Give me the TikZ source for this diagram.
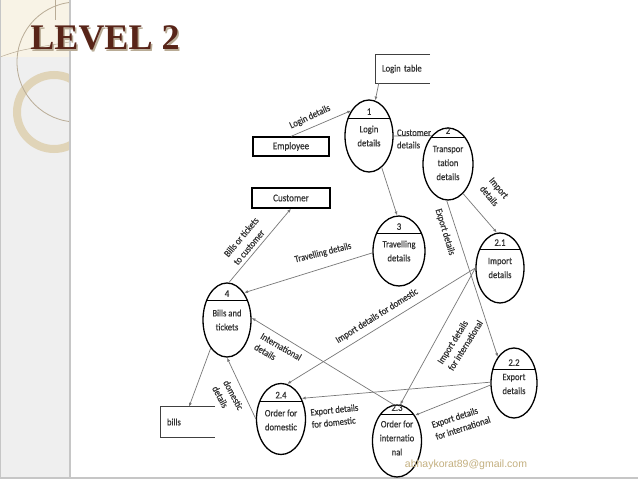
\documentclass[tikz,border=0pt]{standalone}
\usepackage{fontspec}
\setmainfont{Carlito}[FakeBold=0.5,FakeStretch=0.88]
\newfontfamily\titlefont{Liberation Serif}
\newfontfamily\mailfont{Liberation Sans}
\usetikzlibrary{shapes.geometric,arrows.meta}
\definecolor{flow_gray}{RGB}{120,120,120}
\definecolor{title_brown}{RGB}{88,36,24}
\definecolor{title_shadow}{RGB}{185,172,150}
\definecolor{mail_tan}{RGB}{196,176,128}
\definecolor{strip_gray}{RGB}{239,239,239}
\definecolor{strip_edge}{RGB}{198,198,198}
\definecolor{ring_beige}{RGB}{224,212,184}
\definecolor{cream}{RGB}{248,243,230}

\tikzset{
	proc/.style={ellipse,draw=black,line width=1.3pt,inner sep=0pt,
		path picture={\draw[black,line width=0.8pt] ([yshift=-#1]path picture bounding box.north west) -- ([yshift=-#1]path picture bounding box.north east);}},
	num/.style={anchor=base,inner sep=0pt,text=black!80,font=\fontsize{10}{11}\selectfont},
	ptext/.style={align=center,inner sep=0pt,text=black!80,font=\fontsize{9.8}{14}\selectfont},
	entity/.style={draw=black,line width=1.3pt,inner sep=0pt,text=black!80,font=\fontsize{10.3}{11}\selectfont},
	store/.style={inner xsep=6pt,inner ysep=0pt,align=left,text=black!80,font=\fontsize{9.8}{11}\selectfont},
	store_line/.style={draw=black!75,line width=0.9pt},
	flow/.style={draw=flow_gray,line width=0.7pt,-{Latex[length=4pt,width=3pt]}},
	plain_flow/.style={draw=flow_gray,line width=0.7pt},
	lbl/.style={align=left,inner sep=0pt,text=black!80,font=\fontsize{9.8}{12.5}\selectfont}
}

\begin{document}
\begin{tikzpicture}[x=1pt,y=-1pt]
	\useasboundingbox (0,0) rectangle (638,479);
	\fill[white] (0,0) rectangle (638,479);

	% left strip
	\fill[strip_gray] (0,0) rectangle (70,479);
	\fill[cream] (0,0) rectangle (70,57);
	\begin{scope}
		\clip (0,0) rectangle (70,479);
		\draw[ring_beige,line width=8pt] (54,112) circle (37);
		\draw[title_shadow,line width=0.8pt] (77,62) circle (60);
		\draw[title_shadow,line width=0.5pt] (0,57) .. controls (20,50) .. (70,42);
		\draw[title_shadow,line width=0.5pt] (55,0) -- (55,20);
	\end{scope}
	\draw[strip_edge,line width=1.5pt] (70,0) -- (70,479);
	\draw[strip_edge,line width=1pt] (0.5,0) -- (0.5,479);
	\draw[strip_edge,line width=1.5pt] (0,478) -- (638,478);

	% title
	\node[text=title_shadow,font=\titlefont\bfseries\fontsize{36}{40}\selectfont] (ttls) at (106.5,39.5) {LEVEL 2};
	\node[text=title_brown,font=\titlefont\bfseries\fontsize{36}{40}\selectfont] (ttl) at (105,38) {LEVEL 2};

	% processes
	\node[proc=18pt,minimum width=48pt,minimum height=72pt] (p1) at (369,136) {};
	\node[proc=9pt,minimum width=50pt,minimum height=72pt] (p2) at (448,164) {};
	\node[proc=17pt,minimum width=52pt,minimum height=70pt] (p3) at (399,251) {};
	\node[proc=16pt,minimum width=48pt,minimum height=70pt] (p21) at (500,268) {};
	\node[proc=21pt,minimum width=46pt,minimum height=70pt] (p22) at (514,383) {};
	\node[proc=9pt,minimum width=49pt,minimum height=72pt] (p23) at (397,441) {};
	\node[proc=18pt,minimum width=49pt,minimum height=71pt] (p24) at (281,419) {};
	\node[proc=17pt,minimum width=48pt,minimum height=74pt] (p4) at (227,320) {};

	\node[num] (n1) at ([yshift=-15.5pt]p1.north) {1};
	\node[num] (n2) at ([yshift=-6.5pt]p2.north) {2};
	\node[num] (n3) at ([yshift=-14.5pt]p3.north) {3};
	\node[num] (n21) at ([yshift=-13.5pt]p21.north) {2.1};
	\node[num] (n22) at ([yshift=-18.5pt]p22.north) {2.2};
	\node[num] (n23) at ([yshift=-6.5pt]p23.north) {2.3};
	\node[num] (n24) at ([yshift=-15.5pt]p24.north) {2.4};
	\node[num] (n4) at ([yshift=-14.5pt]p4.north) {4};

	\node[ptext] (t1) at (p1) {Login\\details};
	\node[ptext] (t2) at ([yshift=1pt]p2) {Transpor\\tation\\details};
	\node[ptext] (t3) at (p3) {Travelling\\details};
	\node[ptext] (t21) at (p21) {Import\\details};
	\node[ptext] (t22) at ([yshift=-1pt]p22) {Export\\details};
	\node[ptext] (t23) at ([yshift=3pt]p23) {Order for\\internatio\\nal};
	\node[ptext] (t24) at ([yshift=-1pt]p24) {Order for\\domestic};
	\node[ptext] (t4) at (p4) {Bills and\\tickets};

	% entities and stores
	\node[entity,minimum width=76pt,minimum height=19pt] (emp) at (291,146.5) {Employee};
	\node[entity,minimum width=78pt,minimum height=20pt] (cust) at (291,198) {Customer};
	\node[store,text width=42pt,minimum height=28pt] (lt) at (403,69) {Login table};
	\node[store,text width=42pt,minimum height=30pt] (bills) at (188,422) {bills};
	\draw[store_line] (lt.north east) -- (lt.north west) -- (lt.south west) -- (lt.south east);
	\draw[store_line] (bills.north east) -- (bills.north west) -- (bills.south west) -- (bills.south east);

	% flows
	\draw[flow] ([xshift=3pt]lt.south west) -- (p1.80);
	\draw[flow] (emp.north) -- (p1.125);
	\draw[plain_flow] (p1.east) -- (p2.120);
	\draw[flow] (p1.292) -- (p3.93);
	\draw[flow] (p2.297) -- (p21.95);
	\draw[flow] (p2.268) -- (p22.122);
	\draw[flow] (p3.184) -- (p4.58);
	\draw[flow] (p4.87) -- (cust.south);
	\draw[flow] (p4.240) -- ([xshift=1pt]bills.north);
	\draw[flow] (p24.west) -- (p4.270);
	\draw[flow] (p23.95) -- (p4.5);
	\draw[flow] (p21.west) -- (p24.80);
	\draw[flow] (p21.west) -- (p23.85);
	\draw[flow] (p22.178) -- (p24.45);
	\draw[flow] (p22.185) -- (p23.55);

	% flow labels
	\node[lbl,rotate=25] (l_login) at (310,117) {Login details};
	\node[lbl] (l_cust) at (414,139) {Customer\\details};
	\node[lbl,align=center,rotate=-50] (l_imp) at (494,192) {Import\\details};
	\node[lbl,rotate=-73] (l_exp) at (445,232) {Export details};
	\node[lbl,rotate=14] (l_trav) at (323,253) {Travelling details};
	\node[lbl,rotate=50] (l_bills) at (246,241) {Bills or tickets\\to customer};
	\node[lbl,rotate=-62] (l_dom) at (228,398) {domestic\\details};
	\node[lbl,rotate=-30] (l_int) at (278,352) {International\\details};
	\node[lbl,rotate=32] (l_impdom) at (377,316) {Import details for domestic};
	\node[lbl,rotate=58] (l_impint) at (460,342) {Import details\\for international};
	\node[lbl,rotate=6] (l_expdom) at (335,416) {Export details\\for domestic};
	\node[lbl,rotate=18] (l_expint) at (461,422) {Export details\\for international};

	\node[font=\mailfont\fontsize{10.5}{12}\selectfont,text=mail_tan] (mail) at (466,465) {abhaykorat89@gmail.com};
\end{tikzpicture}
\end{document}
